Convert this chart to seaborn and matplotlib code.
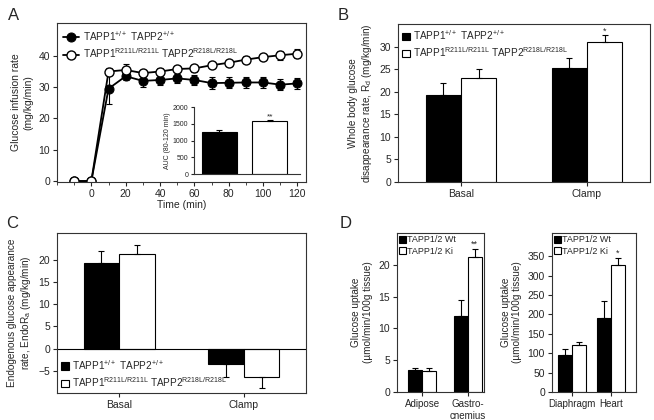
import numpy as np
import pandas as pd
import seaborn as sns
import matplotlib.pyplot as plt
from matplotlib.ticker import MultipleLocator

sns.set_style("ticks")
plt.rcParams['font.family'] = ['Liberation Sans', 'DejaVu Sans']
plt.rcParams['mathtext.fontset'] = 'custom'
plt.rcParams['mathtext.rm'] = 'Liberation Sans'
plt.rcParams['mathtext.it'] = 'Liberation Sans'
plt.rcParams['font.size'] = 7
plt.rcParams['axes.linewidth'] = 0.8
plt.rcParams['axes.edgecolor'] = '#333333'
plt.rcParams['xtick.major.size'] = 3
plt.rcParams['ytick.major.size'] = 3
plt.rcParams['xtick.major.pad'] = 2
plt.rcParams['ytick.major.pad'] = 2

# ---- data ----
time = [-10, 0, 10, 20, 30, 40, 50, 60, 70, 80, 90, 100, 110, 120]
gir_wt = [0, 0, 29.5, 33.5, 32.0, 32.3, 32.8, 32.3, 31.3, 31.4, 31.5, 31.5, 30.8, 31.2]
gir_wt_err = [0, 0, 5.0, 1.2, 1.8, 1.5, 1.5, 1.6, 1.9, 1.8, 1.7, 1.7, 1.8, 1.7]
gir_ki = [0, 0, 35.0, 35.5, 34.5, 35.0, 35.8, 36.0, 37.0, 37.8, 38.8, 39.6, 40.2, 40.7]
gir_ki_err = [0, 0, 1.2, 1.8, 1.0, 1.0, 1.0, 1.0, 0.9, 0.9, 1.0, 1.0, 1.4, 1.4]

auc_groups = ['WT', 'KI']
auc_vals = [1250, 1570]
auc_err = [70, 40]

conditions = ['Basal', 'Clamp']
rd_wt = [19.2, 25.2]
rd_wt_err = [2.8, 2.3]
rd_ki = [23.0, 31.0]
rd_ki_err = [2.0, 1.5]

ra_wt = [19.2, -3.5]
ra_wt_err = [2.8, 3.0]
ra_ki = [21.2, -6.3]
ra_ki_err = [2.0, 2.6]

tissue1 = ['Adipose', 'Gastro-\ncnemius']
up1_wt = [3.4, 12.0]
up1_wt_err = [0.3, 2.4]
up1_ki = [3.3, 21.2]
up1_ki_err = [0.4, 1.3]

tissue2 = ['Diaphragm', 'Heart']
up2_wt = [95, 190]
up2_wt_err = [15, 45]
up2_ki = [122, 327]
up2_ki_err = [8, 18]

lab_wt_long = r'TAPP1$^{\mathregular{+/+}}$ TAPP2$^{\mathregular{+/+}}$'
lab_ki_long = r'TAPP1$^{\mathregular{R211L/R211L}}$ TAPP2$^{\mathregular{R218L/R218L}}$'
lab_wt_short = 'TAPP1/2 Wt'
lab_ki_short = 'TAPP1/2 Ki'

W, H = 654, 420
fig = plt.figure(figsize=(W / 100, H / 100), dpi=100)


def px_axes(x0, y0, x1, y1):
    return fig.add_axes([x0 / W, 1 - y1 / H, (x1 - x0) / W, (y1 - y0) / H])


def bar_panel(ax, cats, wt, wt_err, ki, ki_err, width, labels, stars=None):
    df = pd.DataFrame({
        'cat': cats * 2,
        'val': wt + ki,
        'grp': [labels[0]] * len(cats) + [labels[1]] * len(cats),
    })
    sns.barplot(data=df, x='cat', y='val', hue='grp', palette=['black', 'white'],
                edgecolor='black', linewidth=0.8, width=width * 2, ax=ax,
                errorbar=None, saturation=1)
    pos = np.arange(len(cats))
    for off, vals, errs in [(-width / 2, wt, wt_err), (width / 2, ki, ki_err)]:
        for p, v, e in zip(pos + off, vals, errs):
            yerr = [[0], [e]] if v >= 0 else [[e], [0]]
            ax.errorbar(p, v, yerr=yerr, fmt='none', ecolor='black',
                        elinewidth=0.8, capsize=2, capthick=0.8)
    if stars:
        for i, s in stars.items():
            ax.text(pos[i] + width / 2, ki[i] + ki_err[i], s, ha='center',
                    va='bottom', fontsize=6.5)
    ax.set_xlabel('')
    ax.set_ylabel('')
    for sp in ax.spines.values():
        sp.set_visible(True)


def sq_legend(ax, loc, fs):
    ax.legend(loc=loc, frameon=False, fontsize=fs, handlelength=0.8,
              handleheight=0.8, borderaxespad=0.2, labelspacing=0.35,
              handletextpad=0.3, borderpad=0.2)


# ---- A ----
axA = px_axes(57, 23, 306, 182)
dA = pd.DataFrame({'t': time * 2, 'v': gir_wt + gir_ki,
                   'g': [lab_wt_long] * len(time) + [lab_ki_long] * len(time)})
sns.lineplot(data=dA[dA.g == lab_wt_long], x='t', y='v', color='black', marker='o',
             markersize=6.5, markerfacecolor='black', markeredgecolor='black',
             linewidth=1.3, label=lab_wt_long, ax=axA)
sns.lineplot(data=dA[dA.g == lab_ki_long], x='t', y='v', color='black', marker='o',
             markersize=6.5, markerfacecolor='white', markeredgecolor='black',
             markeredgewidth=1, linewidth=1.3, label=lab_ki_long, ax=axA)
axA.errorbar(time, gir_wt, yerr=gir_wt_err, fmt='none', ecolor='black',
             elinewidth=0.8, capsize=2, capthick=0.8, zorder=1)
axA.errorbar(time, gir_ki, yerr=gir_ki_err, fmt='none', ecolor='black',
             elinewidth=0.8, capsize=2, capthick=0.8, zorder=1)
axA.set_xlim(-20, 125)
axA.set_ylim(-0.3, 50.5)
axA.set_xticks(range(0, 121, 20))
axA.xaxis.set_minor_locator(MultipleLocator(10))
axA.tick_params(which='minor', length=2)
axA.set_yticks(range(0, 41, 10))
axA.set_xlabel('Time (min)', fontsize=7.5, labelpad=1)
axA.set_ylabel('Glucose infusion rate\n(mg/kg/min)', fontsize=7.5)
axA.legend(loc='upper left', frameon=False, fontsize=7.2, handlelength=1.6,
           borderaxespad=0.2, labelspacing=0.35, handletextpad=0.4)

# inset
axI = px_axes(194, 107, 300, 174)
sns.barplot(x=auc_groups, y=auc_vals, hue=auc_groups, palette=['black', 'white'],
            edgecolor='black', linewidth=0.8, width=0.7, ax=axI, legend=False,
            saturation=1)
axI.errorbar([0, 1], auc_vals, yerr=[[0, 0], auc_err], fmt='none', ecolor='black',
             elinewidth=0.8, capsize=2, capthick=0.8)
axI.text(1, auc_vals[1] + auc_err[1], '**', ha='center', va='bottom', fontsize=6)
axI.set_ylim(0, 2000)
axI.set_yticks(range(0, 2001, 500))
axI.set_xticks([])
axI.tick_params(labelsize=5, length=2)
axI.set_ylabel('AUC (80-120 min)', fontsize=5, labelpad=1)
axI.set_xlim(-0.5, 1.6)
sns.despine(ax=axI)

# ---- B ----
axB = px_axes(398, 24, 650, 182)
bar_panel(axB, conditions, rd_wt, rd_wt_err, rd_ki, rd_ki_err, 0.28,
          [lab_wt_long, lab_ki_long], stars={1: '*'})
axB.set_xlim(-0.5, 1.5)
axB.set_ylim(0, 35)
axB.set_yticks(range(0, 31, 5))
axB.set_ylabel('Whole body glucose\ndisappearance rate, R$_{\\mathregular{d}}$ (mg/kg/min)',
               fontsize=7.2)
sq_legend(axB, 'upper left', 7.2)

# ---- C ----
axC = px_axes(57, 233, 306, 393)
bar_panel(axC, conditions, ra_wt, ra_wt_err, ra_ki, ra_ki_err, 0.286,
          [lab_wt_long, lab_ki_long])
axC.axhline(0, color='black', linewidth=0.8)
axC.set_xlim(-0.5, 1.5)
axC.set_ylim(-10, 26)
axC.set_yticks(range(-5, 21, 5))
axC.set_ylabel('Endogenous glucose appearance\nrate, EndoR$_{\\mathregular{a}}$ (mg/kg/min)',
               fontsize=7.2)
sq_legend(axC, 'lower left', 7.2)

# ---- D ----
axD1 = px_axes(397, 233, 484, 392)
bar_panel(axD1, tissue1, up1_wt, up1_wt_err, up1_ki, up1_ki_err, 0.3,
          [lab_wt_short, lab_ki_short], stars={1: '**'})
axD1.set_xlim(-0.55, 1.35)
axD1.set_ylim(0, 25)
axD1.set_yticks(range(0, 21, 5))
axD1.set_ylabel('Glucose uptake\n(\u00b5mol/min/100g tissue)', fontsize=7.2)
axD1.legend(loc='upper left', frameon=False, fontsize=6.5, handlelength=0.8,
            handleheight=0.8, borderaxespad=0.15, labelspacing=0.3,
            handletextpad=0.1, borderpad=0.1)

axD2 = px_axes(552, 233, 636, 392)
bar_panel(axD2, tissue2, up2_wt, up2_wt_err, up2_ki, up2_ki_err, 0.36,
          [lab_wt_short, lab_ki_short], stars={1: '*'})
axD2.set_xlim(-0.51, 1.64)
axD2.set_ylim(0, 410)
axD2.set_yticks(range(0, 351, 50))
axD2.set_ylabel('Glucose uptake\n(\u00b5mol/min/100g tissue)', fontsize=7.2)
axD2.legend(loc='upper left', frameon=False, fontsize=6.5, handlelength=0.8,
            handleheight=0.8, borderaxespad=0.15, labelspacing=0.3,
            handletextpad=0.1, borderpad=0.1)

for ax in [axA, axB, axC, axD1, axD2]:
    ax.tick_params(labelsize=7.5)
for ax in [axD1, axD2]:
    ax.tick_params(axis='x', labelsize=7)

for letter, x, y in [('A', 8, 20), ('B', 338, 20), ('C', 6, 228), ('D', 340, 228)]:
    fig.text(x / W, 1 - y / H, letter, fontsize=12)

fig.savefig('out.png', dpi=100)
